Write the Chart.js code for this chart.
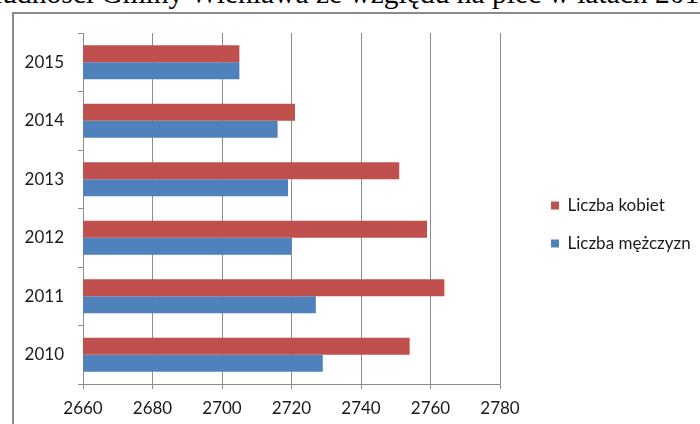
<!DOCTYPE html>
<html>
<head>
<meta charset="utf-8">
<script src="https://cdn.jsdelivr.net/npm/chart.js@4"></script>
<style>
    html, body { margin: 0; padding: 0; background: #fff; overflow: hidden; }
    #wrap { position: relative; width: 700px; height: 424px; overflow: hidden; }
    #frame { position: absolute; left: 12px; top: 12px; width: 700px; height: 420px;
             border-left: 2px solid #8a8a8a; border-top: 2px solid #8a8a8a; }
    #title { position: absolute; left: -6px; top: -23px; font: 29.5px "Liberation Serif", serif;
             white-space: nowrap; color: #000; }
    canvas { position: absolute; left: 0; top: 0; }
</style>
</head>
<body>
<div id="wrap">
    <div id="title">ludności Gminy Wieniawa ze względu na płeć w latach 2010-2015</div>
    <div id="frame"></div>
    <canvas id="chart" width="700" height="424"></canvas>
</div>
<script>
// Dane
const years = ['2010', '2011', '2012', '2013', '2014', '2015'];
const kobiety = [2754, 2764, 2759, 2751, 2721, 2705];
const mezczyzni = [2729, 2727, 2720, 2719, 2716, 2705];
const seriesLabels = ['Liczba kobiet', 'Liczba mężczyzn'];
const xMin = 2660, xMax = 2780, xStep = 20;

const gridColor = '#8c8c8c';
const textColor = '#1a1a1a';
const fontFamily = 'Lato, "Open Sans", sans-serif';

// Legenda: stała szerokość i przesunięcie jak w oryginale
const legendPlace = {
    id: 'legendPlace',
    beforeLayout(chart) {
        const lg = chart.legend;
        if (lg && !lg._fixed) {
            const fit = lg.fit.bind(lg);
            lg.fit = function () { fit(); this.width = 200; };
            lg._fixed = true;
        }
    },
    afterLayout(chart) {
        chart.legend.left += 30;
        chart.legend.right += 30;
        chart.legend.top -= 4;
        chart.legend.bottom -= 4;
    }
};

new Chart(document.getElementById('chart'), {
    type: 'bar',
    data: {
        labels: years,
        datasets: [
            { label: seriesLabels[0], data: kobiety, backgroundColor: '#C0504D' },
            { label: seriesLabels[1], data: mezczyzni, backgroundColor: '#4F81BD' }
        ]
    },
    options: {
        indexAxis: 'y',
        responsive: false,
        animation: false,
        devicePixelRatio: 1,
        layout: { padding: { left: 0, right: 0, top: 33, bottom: 0 } },
        datasets: {
            bar: { categoryPercentage: 0.58, barPercentage: 1, borderWidth: 0 }
        },
        scales: {
            x: {
                min: xMin,
                max: xMax,
                ticks: {
                    stepSize: xStep,
                    color: textColor,
                    padding: 9,
                    font: { family: fontFamily, size: 17 },
                    callback: v => String(v)
                },
                grid: { color: gridColor, tickLength: 5 },
                border: { color: gridColor },
                afterFit: s => { s.height = 40; }
            },
            y: {
                reverse: true,
                offset: true,
                ticks: { color: textColor, padding: 14, font: { family: fontFamily, size: 17 } },
                grid: { drawOnChartArea: false, offset: true, color: gridColor, tickLength: 5 },
                border: { color: gridColor },
                afterFit: s => { s.width = 83; }
            }
        },
        plugins: {
            legend: {
                position: 'right',
                labels: {
                    boxWidth: 8,
                    boxHeight: 8,
                    padding: 21,
                    color: textColor,
                    font: { family: fontFamily, size: 17 }
                }
            },
            tooltip: { enabled: false }
        }
    },
    plugins: [legendPlace]
});
</script>
</body>
</html>
